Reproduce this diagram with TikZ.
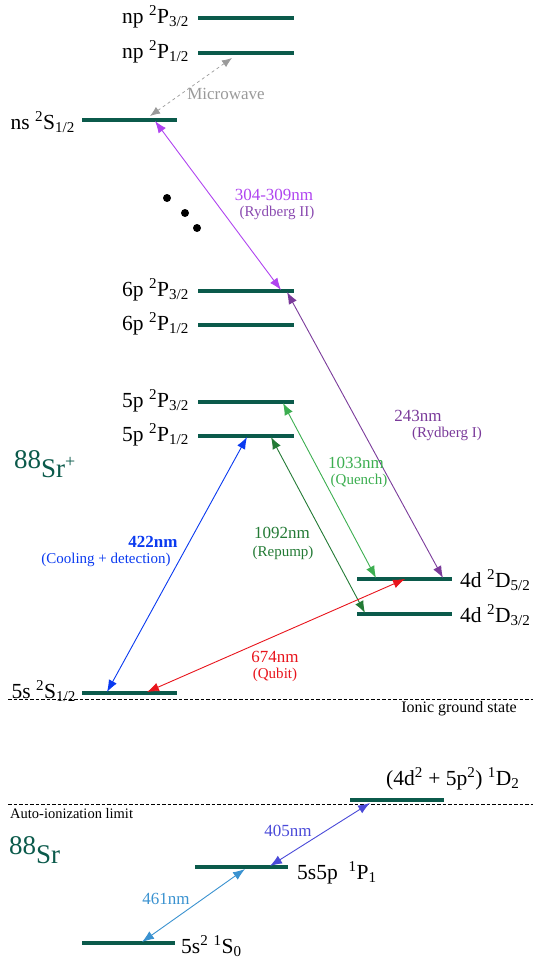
\documentclass[tikz,border=0pt]{standalone}
\usepackage{fontspec}
\setmainfont{Liberation Serif}
\usetikzlibrary{arrows.meta}
\definecolor{lev}{HTML}{0B5A4B}
\definecolor{mwc}{HTML}{9A9A9A}
\definecolor{rtwo}{HTML}{B044F0}
\definecolor{rtwod}{HTML}{8A4AB0}
\definecolor{rone}{HTML}{7A3A9A}
\definecolor{quench}{HTML}{3CAE50}
\definecolor{repump}{HTML}{237A35}
\definecolor{cool}{HTML}{0A3AF0}
\definecolor{qubit}{HTML}{E8141C}
\definecolor{fourofive}{HTML}{4A4AD8}
\definecolor{foursix}{HTML}{3A92D0}
\tikzset{
  level/.style={draw=lev, line width=4.5pt},
  lbl/.style={font=\fontsize{21.5}{24}\selectfont, inner sep=0pt},
  tr/.style={line width=0.9pt, {Latex[length=12pt,width=9pt]}-{Latex[length=12pt,width=9pt]}},
  small/.style={font=\fontsize{17}{19}\selectfont, inner sep=0pt},
  tiny/.style={font=\fontsize{15}{17}\selectfont, inner sep=0pt},
  dot/.style={circle, fill=black, inner sep=0pt, minimum size=8pt}
}
\begin{document}
\begin{tikzpicture}[x=1pt,y=-1pt]
\useasboundingbox (0,0) rectangle (533,960);
% levels
\coordinate (npA1) at (198,18);  \coordinate (npA2) at (294,18);
\coordinate (npB1) at (198,53);  \coordinate (npB2) at (294,53);
\coordinate (ns1) at (82,120);   \coordinate (ns2) at (177,120);
\coordinate (sixA1) at (198,291); \coordinate (sixA2) at (294,291);
\coordinate (sixB1) at (198,325); \coordinate (sixB2) at (294,325);
\coordinate (fiveA1) at (198,402); \coordinate (fiveA2) at (294,402);
\coordinate (fiveB1) at (198,436); \coordinate (fiveB2) at (294,436);
\coordinate (dA1) at (357,579); \coordinate (dA2) at (452,579);
\coordinate (dB1) at (357,614); \coordinate (dB2) at (452,614);
\coordinate (gs1) at (82,693); \coordinate (gs2) at (177,693);
\coordinate (aiA1) at (350,800); \coordinate (aiA2) at (444,800);
\coordinate (ppA1) at (195,867); \coordinate (ppA2) at (288,867);
\coordinate (ssA1) at (82,943); \coordinate (ssA2) at (175,943);
\foreach \a in {npA,npB,ns,sixA,sixB,fiveA,fiveB,dA,dB,gs,aiA,ppA,ssA}
  \draw[level] (\a1) -- (\a2);
% level labels
\node[lbl, anchor=east] (lnpA) at (189,17) {np \textsuperscript{2}P\textsubscript{3/2}};
\node[lbl, anchor=east] (lnpB) at (189,52) {np \textsuperscript{2}P\textsubscript{1/2}};
\node[lbl, anchor=east] (lns) at (75,122) {ns \textsuperscript{2}S\textsubscript{1/2}};
\node[lbl, anchor=east] (lsixA) at (189,290) {6p \textsuperscript{2}P\textsubscript{3/2}};
\node[lbl, anchor=east] (lsixB) at (189,324) {6p \textsuperscript{2}P\textsubscript{1/2}};
\node[lbl, anchor=east] (lfiveA) at (189,401) {5p \textsuperscript{2}P\textsubscript{3/2}};
\node[lbl, anchor=east] (lfiveB) at (189,435) {5p \textsuperscript{2}P\textsubscript{1/2}};
\node[lbl, anchor=west] (ldA) at (460,580) {4d \textsuperscript{2}D\textsubscript{5/2}};
\node[lbl, anchor=west] (ldB) at (460,615) {4d \textsuperscript{2}D\textsubscript{3/2}};
\node[lbl, anchor=east] (lgs) at (76,691) {5s \textsuperscript{2}S\textsubscript{1/2}};
\node[lbl, anchor=west] (lai) at (386,779) {(4d\textsuperscript{2} + 5p\textsuperscript{2}) \textsuperscript{1}D\textsubscript{2}};
\node[lbl, anchor=west] (lpp) at (297,873) {5s5p \ \textsuperscript{1}P\textsubscript{1}};
\node[lbl, anchor=west] (lss) at (181,946) {5s\textsuperscript{2} \textsuperscript{1}S\textsubscript{0}};
% species labels
\node[font=\fontsize{27}{30}\selectfont, text=lev, anchor=west, inner sep=0pt] (srp) at (14,464) {88\raisebox{-9pt}{Sr\raisebox{10pt}{\fontsize{18}{18}\selectfont +}}};
\node[font=\fontsize{27}{30}\selectfont, text=lev, anchor=west, inner sep=0pt] (sr) at (9,850) {88\raisebox{-9pt}{Sr}};
% thresholds
\coordinate (igL) at (8,699); \coordinate (igR) at (533,699);
\draw[line width=1pt, dash pattern=on 3.5pt off 2pt] (igL) -- (igR);
\node[font=\fontsize{16}{18}\selectfont, anchor=east, inner sep=0pt] (igt) at (517,709) {Ionic ground state};
\coordinate (aiL) at (8,804); \coordinate (aiR) at (533,804);
\draw[line width=1pt, dash pattern=on 3.5pt off 2pt] (aiL) -- (aiR);
\node[font=\fontsize{14.5}{16}\selectfont, anchor=west, inner sep=0pt] (ait) at (10,814) {Auto-ionization limit};
% dots
\node[dot] (d1) at (167,198) {};
\node[dot] (d2) at (185,213) {};
\node[dot] (d3) at (197,228) {};
% transitions
\coordinate (mwA) at (150,116); \coordinate (mwB) at (232,58);
\draw[tr, mwc, dashed, line width=0.7pt, {Latex[length=10pt,width=8pt]}-{Latex[length=10pt,width=8pt]}] (mwA) -- (mwB);
\node[small, text=mwc] (mwl) at (226,94) {Microwave};

\coordinate (r2A) at (155,121); \coordinate (r2B) at (281,290);
\draw[tr, rtwo] (r2A) -- (r2B);
\node[small, text=rtwo] (r2l) at (274,195) {304-309nm};
\node[tiny, text=rtwod] (r2s) at (277,213) {(Rydberg II)};

\coordinate (r1A) at (287,292); \coordinate (r1B) at (443,578);
\draw[tr, rone] (r1A) -- (r1B);
\node[small, text=rone] (r1l) at (418,416) {243nm};
\node[tiny, text=rone] (r1s) at (447,434) {(Rydberg I)};

\coordinate (qA) at (283,403); \coordinate (qB) at (376,578);
\draw[tr, quench] (qA) -- (qB);
\node[small, text=quench] (ql) at (356,463) {1033nm};
\node[tiny, text=quench] (qs) at (359,481) {(Quench)};

\coordinate (rpA) at (271,437); \coordinate (rpB) at (365,613);
\draw[tr, repump] (rpA) -- (rpB);
\node[small, text=repump] (rpl) at (282,533) {1092nm};
\node[tiny, text=repump] (rps) at (283,553) {(Repump)};

\coordinate (cA) at (247,437); \coordinate (cB) at (107,692);
\draw[tr, cool] (cA) -- (cB);
\node[small, text=cool, font=\fontsize{17}{19}\selectfont\bfseries] (cl) at (153,542) {422nm};
\node[tiny, text=cool] (cs) at (106,560) {(Cooling + detection)};

\coordinate (qbA) at (405,579); \coordinate (qbB) at (147,692);
\draw[tr, qubit] (qbA) -- (qbB);
\node[small, text=qubit] (qbl) at (275,657) {674nm};
\node[tiny, text=qubit] (qbs) at (275,675) {(Qubit)};

\coordinate (fA) at (370,803); \coordinate (fB) at (270,866);
\draw[tr, fourofive] (fA) -- (fB);
\node[small, text=fourofive] (fl) at (288,831) {405nm};

\coordinate (sA) at (245,869); \coordinate (sB) at (142,942);
\draw[tr, foursix] (sA) -- (sB);
\node[small, text=foursix] (sl) at (166,899) {461nm};
\end{tikzpicture}
\end{document}
